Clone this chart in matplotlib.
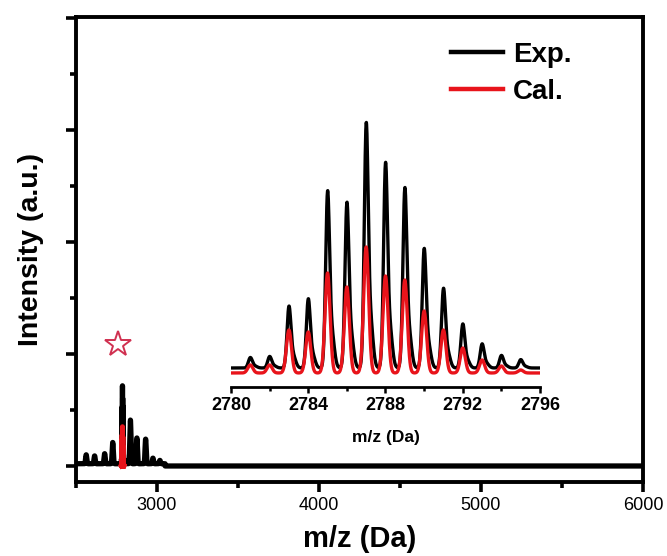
"""
MALDI 质谱图：实验谱与计算同位素分布对比（含局部放大插图）
"""

import matplotlib
matplotlib.use("Agg")
import matplotlib.pyplot as plt
import numpy as np
from matplotlib.ticker import MultipleLocator

plt.rcParams['font.family'] = ['Liberation Sans', 'DejaVu Sans']

# ---- 数据 ----
# 同位素峰（插图），强度单位与主图按 MAIN_SCALE 换算
iso_mz = [2781, 2782, 2783, 2784, 2785, 2786, 2787, 2788,
          2789, 2790, 2791, 2792, 2793, 2794, 2795]
exp_int = [10, 11, 59, 66, 169, 158, 234, 196, 172, 114, 76, 42, 23, 12, 8]
cal_int = [8, 8, 43, 41, 100, 86, 126, 97, 93, 62, 43, 25, 13, 7, 3]
exp_offset = 5          # 实验谱基线抬高
MAIN_SCALE = 0.665 / 239

# 主图中其余的峰 (m/z, 强度)
main_mz = [2563, 2615, 2677, 2727, 2836, 2876, 2930, 2975, 3018]
main_int = [0.08, 0.07, 0.09, 0.19, 0.39, 0.23, 0.22, 0.05, 0.03]
main_base = 0.02

star_pos = (2758, 1.09)


def peaks(x, centers, heights, sigma, tail=0.0):
    y = np.zeros_like(x)
    for c, h in zip(centers, heights):
        y += h * np.exp(-0.5 * ((x - c) / sigma) ** 2)
        if tail:
            y += tail * h * np.exp(-0.5 * ((x - c - 0.22) / (sigma * 1.3)) ** 2)
    return y


fig = plt.figure(figsize=(6.67, 5.56), dpi=100)

# ---- 主图 ----
ax = fig.add_axes([0.1139, 0.1331, 0.850, 0.8363])

x_main = np.arange(2500, 6000.01, 0.05)
base = np.where(x_main < 3050, main_base, 0.0)
y_exp_main = (base
              + peaks(x_main, main_mz, main_int, 3.5)
              + MAIN_SCALE * (exp_offset + peaks(x_main, iso_mz, exp_int, 0.1, 0.2))
              * ((x_main > 2779) & (x_main < 2797)))
y_cal_main = MAIN_SCALE * peaks(x_main, iso_mz, cal_int, 0.13)
mask = (x_main > 2780) & (x_main < 2796)

ax.plot(x_main, y_exp_main, color='black', lw=3.8, solid_joinstyle='round')
ax.plot(x_main[mask], y_cal_main[mask], color='#e8141b', lw=3.6)
ax.plot(*star_pos, marker='*', markersize=19, markerfacecolor='white',
        markeredgecolor='#d03050', markeredgewidth=1.4, ls='none')

# 图例用的线
ax.plot([], [], color='black', lw=3.2, label='Exp.')
ax.plot([], [], color='#e8141b', lw=3.2, label='Cal.')

ax.set_xlim(2500, 6000)
ax.set_ylim(-0.143, 4.01)
ax.xaxis.set_major_locator(MultipleLocator(1000))
ax.xaxis.set_minor_locator(MultipleLocator(500))
ax.yaxis.set_major_locator(MultipleLocator(1))
ax.yaxis.set_minor_locator(MultipleLocator(0.5))
ax.set_yticklabels([])
ax.tick_params(which='major', length=7, width=2.6, direction='out', labelsize=13, pad=4)
ax.tick_params(which='minor', length=4, width=2.6, direction='out')
for sp in ax.spines.values():
    sp.set_linewidth(2.8)

ax.set_xlabel("m/z (Da)", fontsize=21, fontweight='bold', labelpad=8)
ax.set_ylabel("Intensity (a.u.)", fontsize=20.5, fontweight='bold', labelpad=12)

ax.legend(loc='upper right', bbox_to_anchor=(0.894, 0.97), frameon=False,
          prop={'size': 20, 'weight': 'bold'}, handlelength=1.9,
          handletextpad=0.35, labelspacing=0.38, borderaxespad=0)

# ---- 插图 ----
ins = fig.add_axes([0.3463, 0.3040, 0.4633, 0.4802])
x_ins = np.arange(2780, 2796.001, 0.01)
ins.plot(x_ins, exp_offset + peaks(x_ins, iso_mz, exp_int, 0.1, 0.2),
         color='black', lw=2.4)
ins.plot(x_ins, peaks(x_ins, iso_mz, cal_int, 0.13), color='#e8141b', lw=2.4)

ins.set_xlim(2780, 2796)
ins.set_ylim(-14, 253)
ins.patch.set_alpha(0)
for side in ['left', 'right', 'top']:
    ins.spines[side].set_visible(False)
ins.spines['bottom'].set_linewidth(2.0)
ins.set_yticks([])
ins.xaxis.set_major_locator(MultipleLocator(4))
ins.xaxis.set_minor_locator(MultipleLocator(2))
ins.tick_params(axis='x', which='major', length=4, width=1.8, labelsize=13, pad=3)
ins.tick_params(axis='x', which='minor', length=3, width=1.8)
for lab in ins.get_xticklabels():
    lab.set_fontweight('bold')
ins.set_xlabel("m/z (Da)", fontsize=12.5, fontweight='bold', labelpad=12)

fig.savefig("out.png", dpi=100)
